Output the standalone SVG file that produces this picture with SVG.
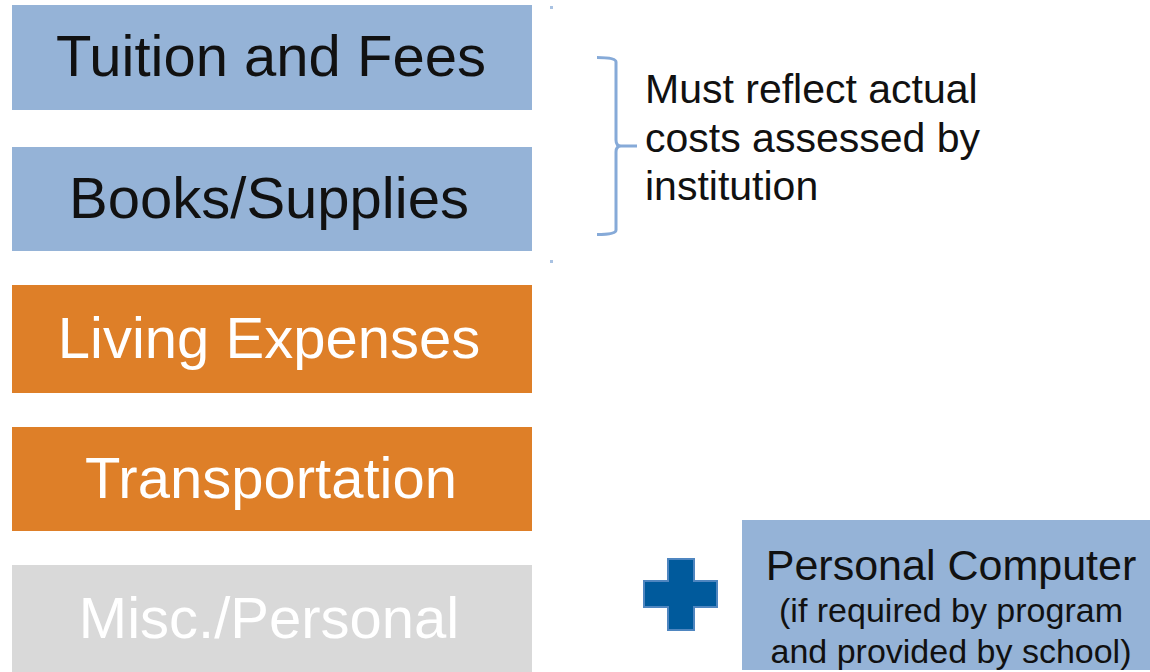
<svg xmlns="http://www.w3.org/2000/svg" width="1150" height="672" viewBox="0 0 1150 672">
<style>
.box text{font-family:"Liberation Sans",Arial,sans-serif;font-size:58px;text-anchor:middle}
.blue{fill:#95B3D7}
.orange{fill:#DE7F28}
.grey{fill:#D9D9D9}
.dark{fill:#111111}
.light{fill:#FFFFFF}
.note{font-family:"Liberation Sans",Arial,sans-serif;fill:#111111}
</style>
<rect width="1150" height="672" fill="#FFFFFF"/>
<g id="tuition" class="box"><rect class="blue" x="12" y="5" width="520" height="105"/><text class="dark" x="271" y="76">Tuition and Fees</text></g>
<g id="books" class="box"><rect class="blue" x="12" y="147" width="520" height="104"/><text class="dark" x="269" y="218">Books/Supplies</text></g>
<g id="living" class="box"><rect class="orange" x="12" y="285" width="520" height="108"/><text class="light" x="269" y="358">Living Expenses</text></g>
<g id="transport" class="box"><rect class="orange" x="12" y="427" width="520" height="104"/><text class="light" x="271" y="498">Transportation</text></g>
<g id="misc" class="box"><rect class="grey" x="12" y="565" width="520" height="107"/><text class="light" x="269" y="638">Misc./Personal</text></g>
<g id="markers"><rect x="550" y="6" width="3" height="3" fill="#A9C2E2"/><rect x="550" y="260" width="3" height="3" fill="#A9C2E2"/></g>
<g id="connectors"><path d="M597 57.5 Q616 57.5 616 62 L616 140 Q616 146 621 146 L637 146 M621 146 Q616 146 616 152 L616 230 Q616 234.5 597 234.5" fill="none" stroke="#86AAD8" stroke-width="3"/></g>
<g id="note"><text class="note" font-size="41" x="645" y="103">Must reflect actual</text><text class="note" font-size="41" x="645" y="152">costs assessed by</text><text class="note" font-size="41" x="645" y="200">institution</text></g>
<g id="plus"><path d="M668 559 H694 V581 H717 V607 H694 V630 H668 V607 H644 V581 H668 Z" fill="#005A9C" stroke="#4F86C0" stroke-width="2"/></g>
<g id="computer"><rect class="blue" x="742" y="520" width="408" height="150"/><text class="note" font-size="43" x="951" y="580" text-anchor="middle">Personal Computer</text><text class="note" font-size="34" x="951" y="622" text-anchor="middle">(if required by program</text><text class="note" font-size="34" x="951" y="663" text-anchor="middle">and provided by school)</text></g>
</svg>
